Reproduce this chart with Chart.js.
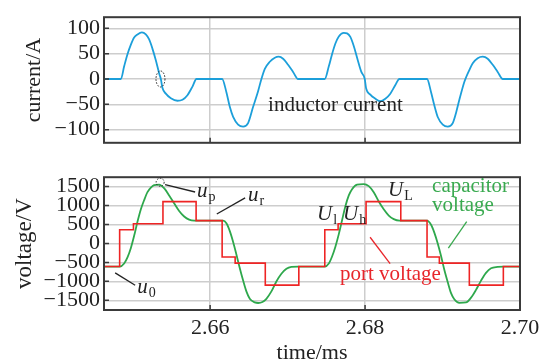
<!DOCTYPE html>
<html>
<head>
<meta charset="utf-8">
<script src="https://cdn.jsdelivr.net/npm/chart.js@4"></script>
<style>
body{margin:0;background:#fff;}
#wrap{position:relative;width:550px;height:362px;}
#c1{position:absolute;left:0;top:0;}
#c2{position:absolute;left:0;top:160px;}
</style>
</head>
<body>
<div id="wrap">
<canvas id="c1" width="550" height="160" style="width:550px;height:160px"></canvas>
<canvas id="c2" width="550" height="202" style="width:550px;height:202px"></canvas>
</div>
<script>
// ===================== data =====================
const xTicks = [2.66, 2.68, 2.70];
const curTicks = [-100, -50, 0, 50, 100];
const voltTicks = [-1500, -1000, -500, 0, 500, 1000, 1500];

// inductor current, time in ms / current in A
const curT = [2.64632,2.64848,2.64890,2.64933,2.64977,2.65019,2.65062,2.65119,2.65170,2.65213,2.65255,2.65299,2.65342,2.65364,2.65385,2.65428,2.65493,2.65578,2.65643,2.65707,2.65772,2.65823,
  2.66155,2.66210,2.66254,2.66297,2.66361,2.66426,2.66490,2.66555,2.66619,2.66662,2.66706,2.66770,2.66835,2.66886,2.66942,2.67006,2.67071,2.67135,
  2.67480,2.67532,2.67574,2.67617,2.67661,2.67725,2.67768,2.67810,2.67854,2.67897,2.67952,2.67996,2.68013,2.68068,2.68133,2.68197,2.68262,2.68326,2.68391,2.68443,
  2.68800,2.68852,2.68894,2.68938,2.69003,2.69067,2.69132,2.69174,2.69217,2.69281,2.69303,2.69338,2.69390,2.69454,2.69519,2.69583,2.69648,2.69712,2.69777,2.70000];
const curI = [0,0,25,49,68,82,88,92,88,78,60,37,11,0,-18,-29,-38,-43,-41,-32,-15,0,
  0,-26,-55,-75,-90,-94,-87,-55,-24,0,20,34,42,44,40,28,14,0,
  0,25,49,70,84,91,90,83,65,42,14,0,-18,-31,-39,-44,-39,-29,-12,0,
  0,-26,-52,-75,-90,-94,-87,-67,-41,-6,3,15,31,41,44,40,28,14,0,0];

// capacitor voltage, V
const capT = [2.64632,2.64835,2.64890,2.64933,2.64977,2.65019,2.65062,2.65106,2.65148,2.65191,2.65235,2.65277,2.65342,2.65406,2.65471,2.65535,2.65600,2.65665,2.65729,2.65794,
  2.66168,2.66210,2.66254,2.66297,2.66339,2.66383,2.66426,2.66468,2.66512,2.66577,2.66620,2.66675,2.66726,2.66791,2.66855,2.66920,2.66985,2.67049,2.67135,
  2.67480,2.67532,2.67574,2.67617,2.67661,2.67703,2.67746,2.67790,2.67832,2.67897,2.67983,2.68048,2.68112,2.68177,2.68241,2.68306,2.68370,2.68443,
  2.68800,2.68852,2.68894,2.68938,2.68981,2.69023,2.69067,2.69110,2.69152,2.69217,2.69303,2.69368,2.69432,2.69497,2.69561,2.69626,2.69712,2.69785,2.70000];
const capV = [-610,-610,-530,-370,-120,200,570,900,1140,1350,1470,1535,1550,1455,1265,1060,855,710,625,600,
  600,530,325,40,-290,-655,-980,-1265,-1460,-1555,-1570,-1545,-1460,-1265,-1005,-800,-670,-620,-610,
  -610,-530,-345,-85,245,610,980,1265,1430,1550,1565,1510,1350,1105,900,735,640,600,
  600,490,285,0,-330,-695,-1020,-1310,-1470,-1565,-1555,-1430,-1225,-980,-775,-655,-620,-610,-610];

// port voltage (stepped), V
const portT = [2.64632,2.64832,2.65010,2.65391,2.65819,2.66155,2.66323,2.66712,2.67145,2.67480,2.67652,2.68013,2.68461,2.68800,2.68959,2.69346,2.69785,2.70000];
const portV = [-610,360,520,1100,600,-360,-520,-1100,-610,360,520,1100,600,-360,-520,-1100,-610,-610];

// ===================== helpers =====================
const SERIF = "'Liberation Serif', 'Times New Roman', serif";
const X_MIN = 2.6463, X_MAX = 2.70;
const fmtY = v => v<0 ? '\u2212'+Math.abs(v) : String(v);
const pts = (xs,ys) => xs.map((x,i)=>({x:x,y:ys[i]}));

function xAxis(showLabels){
    return {
        type:'linear', min:X_MIN, max:X_MAX,
        afterBuildTicks: s => { s.ticks = xTicks.map(v=>({value:v})); },
        grid:{color:'#cdcdcd', lineWidth:1.5, drawTicks:false},
        border:{display:false},
        ticks:{display:showLabels, padding:5, color:'#222', maxRotation:0, autoSkip:false,
               font:{family:SERIF,size:22}, callback: v => v.toFixed(2)},
        afterFit: s => { s.height = showLabels ? 52 : 0; }
    };
}
function yAxis(min,max,ticks){
    return {
        type:'linear', min:min, max:max,
        afterBuildTicks: s => { s.ticks = ticks.map(v=>({value:v})); },
        grid:{color:'#cdcdcd', lineWidth:1.5, drawTicks:false},
        border:{display:false},
        ticks:{padding:4, color:'#222', autoSkip:false, font:{family:SERIF,size:22}, callback: fmtY},
        afterFit: s => { s.width = 104; }
    };
}

// frame + inner tick marks
const frame = {
    id:'frame',
    afterDraw(chart){
        const {ctx, chartArea:a, scales} = chart;
        ctx.save();
        ctx.strokeStyle='#3a3a3a';
        ctx.lineWidth=1.5;
        ctx.beginPath();
        scales.y.ticks.forEach(t=>{ const y=scales.y.getPixelForValue(t.value); ctx.moveTo(a.left,y); ctx.lineTo(a.left+5,y); });
        scales.x.ticks.forEach(t=>{ const x=scales.x.getPixelForValue(t.value); ctx.moveTo(x,a.bottom); ctx.lineTo(x,a.bottom-5); });
        ctx.stroke();
        ctx.lineWidth=2;
        ctx.strokeRect(a.left,a.top,a.right-a.left,a.bottom-a.top);
        ctx.restore();
    }
};

function P(chart,t,v){ return [chart.scales.x.getPixelForValue(t), chart.scales.y.getPixelForValue(v)]; }
function line(ctx,chart,t1,v1,t2,v2,color){
    const [x1,y1]=P(chart,t1,v1), [x2,y2]=P(chart,t2,v2);
    ctx.strokeStyle=color; ctx.lineWidth=1.3; ctx.setLineDash([]);
    ctx.beginPath(); ctx.moveTo(x1,y1); ctx.lineTo(x2,y2); ctx.stroke();
}
function text(ctx,chart,s,t,v,color){
    const [x,y]=P(chart,t,v);
    ctx.fillStyle=color; ctx.font='21px '+SERIF;
    ctx.textAlign='left'; ctx.textBaseline='alphabetic';
    ctx.fillText(s,x,y);
}
function subLabel(ctx,chart,main,sub,t,v){
    const [x,y]=P(chart,t,v);
    ctx.fillStyle='#222'; ctx.textAlign='left'; ctx.textBaseline='alphabetic';
    ctx.font='italic 21px '+SERIF;
    ctx.fillText(main,x,y);
    const w=ctx.measureText(main).width;
    ctx.font='14px '+SERIF;
    ctx.fillText(sub,x+w+1,y+4);
}
function yTitle(ctx,s,x,y,size){
    ctx.save();
    ctx.translate(x,y); ctx.rotate(-Math.PI/2);
    ctx.fillStyle='#222'; ctx.font=size+'px '+SERIF;
    ctx.textAlign='center'; ctx.textBaseline='alphabetic';
    ctx.fillText(s,0,0);
    ctx.restore();
}

// ===================== annotations =====================
const topNotes = {
    id:'topNotes',
    afterDraw(chart){
        const ctx=chart.ctx, a=chart.chartArea;
        ctx.save();
        yTitle(ctx,'current/A',40,(a.top+a.bottom)/2,22);
        text(ctx,chart,'inductor current',2.66748,-64,'#222');
        const [x,y]=P(chart,2.65359,0);
        ctx.strokeStyle='#222'; ctx.lineWidth=1; ctx.setLineDash([1.5,1.5]);
        ctx.beginPath(); ctx.ellipse(x,y,4.5,8,0,0,Math.PI*2); ctx.stroke();
        ctx.restore();
    }
};
const botNotes = {
    id:'botNotes',
    afterDraw(chart){
        const ctx=chart.ctx, a=chart.chartArea;
        ctx.save();
        yTitle(ctx,'voltage/V',31,(a.top+a.bottom)/2,23);
        ctx.fillStyle='#222'; ctx.font='22px '+SERIF; ctx.textAlign='center'; ctx.textBaseline='alphabetic';
        ctx.fillText('time/ms',(a.left+a.right)/2,199);
        // peak marker
        const [x,y]=P(chart,2.65355,1612);
        ctx.strokeStyle='#222'; ctx.lineWidth=1; ctx.setLineDash([1.5,1.5]);
        ctx.beginPath(); ctx.ellipse(x,y,4,4,0,0,Math.PI*2); ctx.stroke();
        // leaders
        line(ctx,chart,2.65419,1551,2.65806,1355,'#222');
        line(ctx,chart,2.66086,774,2.66452,1200,'#222');
        line(ctx,chart,2.64774,-777,2.65032,-1102,'#222');
        line(ctx,chart,2.69312,571,2.69075,-122,'#3aaa50');
        line(ctx,chart,2.68065,162,2.68323,-532,'#e8262b');
        // labels
        subLabel(ctx,chart,'u','p',2.65832,1232);
        subLabel(ctx,chart,'u','r',2.66490,1122);
        subLabel(ctx,chart,'u','0',2.65058,-1316);
        subLabel(ctx,chart,'U','l',2.67381,620);
        subLabel(ctx,chart,'U','h',2.67716,620);
        subLabel(ctx,chart,'U','L',2.68297,1257);
        text(ctx,chart,'capacitor',2.68865,1355,'#3aaa50');
        text(ctx,chart,'voltage',2.68865,865,'#3aaa50');
        text(ctx,chart,'port voltage',2.67677,-973,'#e8262b');
        ctx.restore();
    }
};

// ===================== charts =====================
new Chart(document.getElementById('c1'),{
    type:'line',
    data:{datasets:[
        {data:pts(curT,curI), borderColor:'#1c9fda', borderWidth:1.8, pointRadius:0, cubicInterpolationMode:'monotone', fill:false}
    ]},
    options:{
        responsive:false, animation:false,
        layout:{padding:{left:0,right:30,top:7.5,bottom:9}},
        plugins:{legend:{display:false}, tooltip:{enabled:false}},
        scales:{x:xAxis(false), y:yAxis(-126,122,curTicks)}
    },
    plugins:[frame,topNotes]
});

new Chart(document.getElementById('c2'),{
    type:'line',
    data:{datasets:[
        {data:pts(portT,portV), borderColor:'#ee2424', borderWidth:1.6, pointRadius:0, stepped:'before', fill:false},
        {data:pts(capT,capV), borderColor:'#2ea84c', borderWidth:1.8, pointRadius:0, cubicInterpolationMode:'monotone', fill:false}
    ]},
    options:{
        responsive:false, animation:false,
        layout:{padding:{left:0,right:30,top:7,bottom:0}},
        plugins:{legend:{display:false}, tooltip:{enabled:false}},
        scales:{x:xAxis(true), y:yAxis(-1755,1745,voltTicks)}
    },
    plugins:[frame,botNotes]
});
</script>
</body>
</html>
